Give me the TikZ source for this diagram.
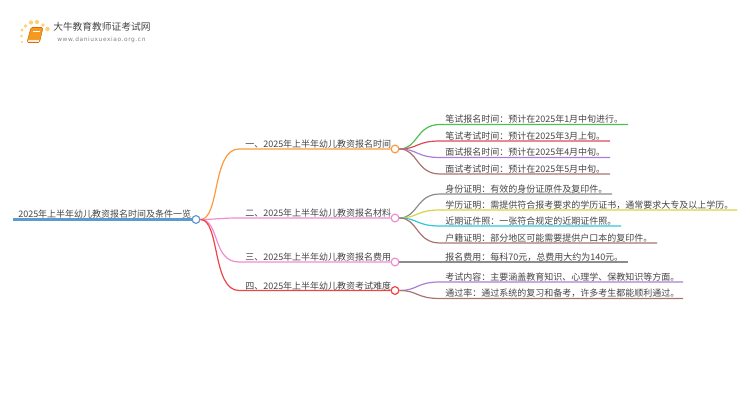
\documentclass[tikz,border=0pt]{standalone}
\usepackage{fontspec}
\setmainfont{Noto Sans CJK SC}[Scale=1]
\newfontfamily\urlfont{DejaVu Sans}[LetterSpace=10]
\definecolor{inkgray}{HTML}{444444}
\definecolor{rootblue}{HTML}{5B9BD0}
\definecolor{orangeline}{HTML}{FF9A3C}
\definecolor{pinkline}{HTML}{F08CD2}
\definecolor{redline}{HTML}{EE4444}
\definecolor{greenline}{HTML}{4FBF4F}
\definecolor{crimsonline}{HTML}{E0485A}
\definecolor{purpleline}{HTML}{A97FD6}
\definecolor{brownline}{HTML}{A9746E}
\definecolor{grayline}{HTML}{8C8C8C}
\definecolor{yellowline}{HTML}{D8D24A}
\definecolor{cyanline}{HTML}{2CC8D8}
\definecolor{bookorange}{HTML}{F59A1E}
\definecolor{sunyellow}{HTML}{FAD27A}
\tikzset{
    txt/.style={anchor=base west, inner sep=0pt, text=inkgray, font=\fontsize{6.75pt}{8pt}\selectfont},
    dot/.style={circle, draw=#1, fill=white, line width=0.9pt, minimum size=5.8pt, inner sep=0pt},
    link/.style={line width=0.9pt, #1},
    sun/.style={circle, fill=sunyellow, inner sep=0pt, minimum size=#1}
}
\begin{document}
\begin{tikzpicture}[x=0.75pt, y=-0.75pt]
    \useasboundingbox (0,0) rectangle (750,410);

    % logo
    \begin{scope}
        \node[sun=1.8pt] (s1) at (22,42) {};
        \node[sun=2.2pt] (s2) at (21.5,36) {};
        \node[sun=2.4pt] (s3) at (22,30) {};
        \node[sun=2.8pt] (s4) at (25.5,26) {};
        \node[sun=3.2pt] (s5) at (31,22.5) {};
        \node[sun=3.2pt] (s6) at (37,22) {};
        \node[sun=2.8pt] (s7) at (43,25) {};
        \node[sun=3.4pt] (s8) at (47.5,29) {};
        \draw[fill=bookorange, draw=orange!85!black, line width=0.4pt, rounded corners=1pt]
            (31,27.5) -- (43,27.5) -- (39.5,42.5) -- (27,42.5) -- cycle;
        \draw[fill=white, draw=orange!85!black, line width=0.3pt] (27.6,42) -- (39.2,42) -- (39.7,40) -- (28.1,40) -- cycle;
        \draw[white, line width=0.5pt] (33,31) -- (40,31);
        \node[anchor=base west, inner sep=0pt, text=inkgray, font=\fontsize{7.3pt}{9pt}\selectfont] (brand) at (53,31) {大牛教育教师证考试网};
        \node[anchor=base west, inner sep=0pt, text=gray, font=\urlfont\fontsize{4.4pt}{5pt}\selectfont] (site) at (57,41.5) {www.daniuxuexiao.org.cn};
    \end{scope}

    % root and branches
    \node[dot=rootblue] (root) at (196,219.5) {};
    \node[txt] (roottxt) at (18,217) {2025年上半年幼儿教资报名时间及条件一览};
    \coordinate (rootend) at (13,219.5);
    \node[dot=orangeline] (b1) at (395,149) {};
    \node[dot=pinkline] (b2) at (395,218) {};
    \node[dot=pinkline] (b3) at (395,262) {};
    \node[dot=redline] (b4) at (395,290.5) {};
    \node[txt] (b1txt) at (245,147.5) {一、2025年上半年幼儿教资报名时间};
    \node[txt] (b2txt) at (245,216.5) {二、2025年上半年幼儿教资报名材料};
    \node[txt] (b3txt) at (245,260.5) {三、2025年上半年幼儿教资报名费用};
    \node[txt] (b4txt) at (245,289) {四、2025年上半年幼儿教资考试难度};

    \draw[rootblue, line width=1.6pt] (rootend) -- (root);
    \draw[link=orangeline] (root) .. controls (220,219.5) and (212,149) .. (239,149) -- (b1);
    \draw[link=pinkline] (root) .. controls (215,219.5) and (220,218) .. (239,218) -- (b2);
    \draw[link=pinkline] (root) .. controls (220,219.5) and (212,262) .. (239,262) -- (b3);
    \draw[link=redline] (root) .. controls (220,219.5) and (212,290.5) .. (239,290.5) -- (b4);

    % leaves of the first branch
    \node[txt] (t1) at (445,122.5) {笔试报名时间：预计在2025年1月中旬进行。};
    \node[txt] (t2) at (445,139) {笔试考试时间：预计在2025年3月上旬。};
    \node[txt] (t3) at (445,155.5) {面试报名时间：预计在2025年4月中旬。};
    \node[txt] (t4) at (445,172) {面试考试时间：预计在2025年5月中旬。};
    \coordinate (e1) at (628,124.5);
    \coordinate (e2) at (610,141);
    \coordinate (e3) at (610,157.5);
    \coordinate (e4) at (610,174);
    \draw[link=greenline] (b1) .. controls (418,149) and (416,124.5) .. (440,124.5) -- (e1);
    \draw[link=crimsonline] (b1) .. controls (418,149) and (416,141) .. (440,141) -- (e2);
    \draw[link=purpleline] (b1) .. controls (418,149) and (416,157.5) .. (440,157.5) -- (e3);
    \draw[link=brownline] (b1) .. controls (418,149) and (416,174) .. (440,174) -- (e4);

    % leaves of the second branch
    \node[txt] (t5) at (445,192) {身份证明：有效的身份证原件及复印件。};
    \node[txt] (t6) at (445,208) {学历证明：需提供符合报考要求的学历证书，通常要求大专及以上学历。};
    \node[txt] (t7) at (445,224.5) {近期证件照：一张符合规定的近期证件照。};
    \node[txt] (t8) at (445,241) {户籍证明：部分地区可能需要提供户口本的复印件。};
    \coordinate (e5) at (612,194);
    \coordinate (e6) at (737,210);
    \coordinate (e7) at (621,226);
    \coordinate (e8) at (657,243);
    \draw[link=grayline] (b2) .. controls (418,218) and (416,194) .. (440,194) -- (e5);
    \draw[link=yellowline] (b2) .. controls (418,218) and (416,210) .. (440,210) -- (e6);
    \draw[link=cyanline] (b2) .. controls (418,218) and (416,226) .. (440,226) -- (e7);
    \draw[link=brownline] (b2) .. controls (418,218) and (416,243) .. (440,243) -- (e8);

    % leaves of the third and fourth branch
    \node[txt] (t9) at (445,260.5) {报名费用：每科70元，总费用大约为140元。};
    \node[txt] (t10) at (445,280) {考试内容：主要涵盖教育知识、心理学、保教知识等方面。};
    \node[txt] (t11) at (445,296.5) {通过率：通过系统的复习和备考，许多考生都能顺利通过。};
    \coordinate (e9) at (628,262);
    \coordinate (e10) at (683,282);
    \coordinate (e11) at (683,298.5);
    \draw[link=grayline] (b3) -- (e9);
    \draw[link=purpleline] (b4) .. controls (418,290.5) and (416,282) .. (440,282) -- (e10);
    \draw[link=brownline] (b4) .. controls (418,290.5) and (416,298.5) .. (440,298.5) -- (e11);
\end{tikzpicture}
\end{document}
